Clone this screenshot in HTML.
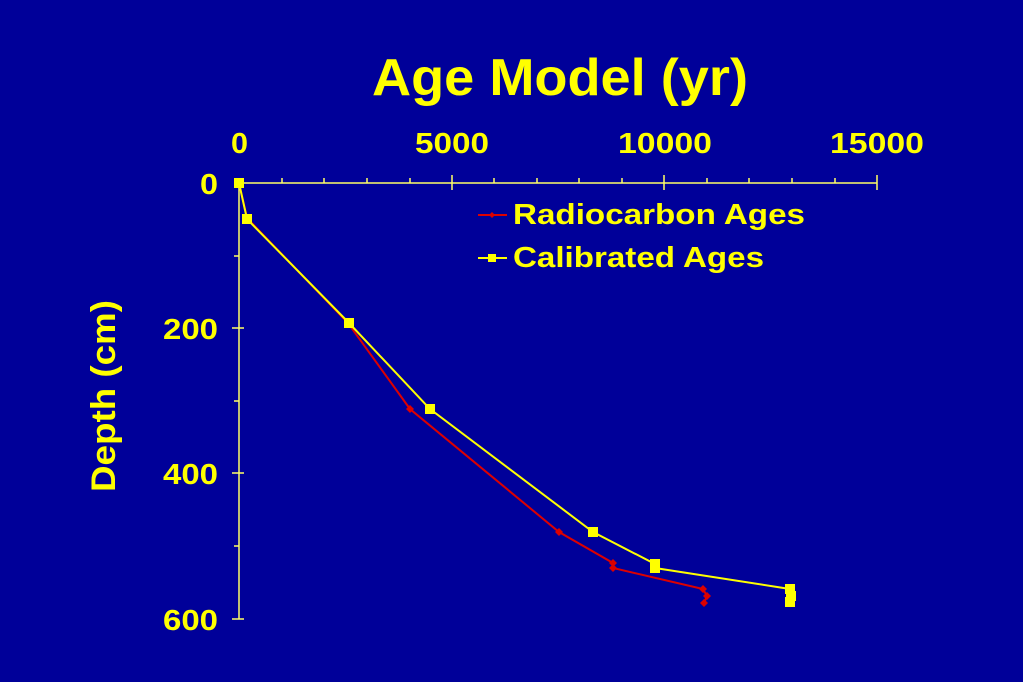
<!DOCTYPE html>
<html><head><style>
html,body{margin:0;padding:0;background:#000099;}
</style></head><body>
<svg width="1023" height="682" xmlns="http://www.w3.org/2000/svg" style="display:block">
<rect width="1023" height="682" fill="#000099"/>
<g font-family="Liberation Sans, sans-serif" font-weight="bold" fill="#ffff00">
<text x="372" y="95" font-size="52" textLength="376" lengthAdjust="spacingAndGlyphs">Age Model (yr)</text>
<g font-size="29">
<text x="231" y="153" textLength="17" lengthAdjust="spacingAndGlyphs">0</text>
<text x="415" y="153" textLength="74" lengthAdjust="spacingAndGlyphs">5000</text>
<text x="618" y="153" textLength="94" lengthAdjust="spacingAndGlyphs">10000</text>
<text x="830" y="153" textLength="94" lengthAdjust="spacingAndGlyphs">15000</text>
</g>
<g font-size="29">
<text x="200" y="194" textLength="18" lengthAdjust="spacingAndGlyphs">0</text>
<text x="163" y="339" textLength="55" lengthAdjust="spacingAndGlyphs">200</text>
<text x="163" y="484" textLength="55" lengthAdjust="spacingAndGlyphs">400</text>
<text x="163" y="630" textLength="55" lengthAdjust="spacingAndGlyphs">600</text>
</g>
<text transform="translate(115,492) rotate(-90)" font-size="34" textLength="192" lengthAdjust="spacingAndGlyphs">Depth (cm)</text>
<g font-size="29">
<text x="513" y="224" textLength="292" lengthAdjust="spacingAndGlyphs">Radiocarbon Ages</text>
<text x="513" y="267" textLength="251" lengthAdjust="spacingAndGlyphs">Calibrated Ages</text>
</g>
</g>
<g stroke="#ffff66" stroke-width="1.5" fill="none">
<line x1="239" y1="183" x2="877" y2="183"/>
<line x1="239" y1="183" x2="239" y2="619"/>
<path d="M282 178v5M324 178v5M367 178v5M410 178v5M494 178v5M537 178v5M579 178v5M622 178v5M707 178v5M749 178v5M792 178v5M835 178v5"/>
<path d="M452 175v15M664 175v15M877 175v15"/>
<path d="M234 256h5M234 401h5M234 546h5M232 328h12M232 473h12M232 619h12"/>
</g>
<polyline fill="none" stroke="#dd0000" stroke-width="2" points="239,183 247,218 348,323 410,409 559,532 613,563 613,568 703,589 707,596 704,603"/>
<g fill="#dd0000">
<path d="M239 179l4 4-4 4-4-4z M247 214l4 4-4 4-4-4z M348 319l4 4-4 4-4-4z M410 405l4 4-4 4-4-4z M559 528l4 4-4 4-4-4z M613 559l4 4-4 4-4-4z M613 564l4 4-4 4-4-4z M703 585l4 4-4 4-4-4z M707 592l4 4-4 4-4-4z M704 599l4 4-4 4-4-4z"/>
</g>
<polyline fill="none" stroke="#ffff00" stroke-width="2" points="239,183 247,219 349,323 430,409 593,532 655,564 655,568 790,589 791,596 790,602"/>
<g fill="#ffff00">
<rect x="234" y="178" width="10" height="10"/><rect x="242" y="214" width="10" height="10"/><rect x="344" y="318" width="10" height="10"/><rect x="425" y="404" width="10" height="10"/><rect x="588" y="527" width="10" height="10"/><rect x="650" y="559" width="10" height="10"/><rect x="650" y="563" width="10" height="10"/><rect x="785" y="584" width="10" height="10"/><rect x="786" y="591" width="10" height="10"/><rect x="785" y="597" width="10" height="10"/>
</g>
<line x1="478" y1="215" x2="507" y2="215" stroke="#dd0000" stroke-width="2"/>
<path d="M492 212l3 3-3 3-3-3z" fill="#dd0000"/>
<line x1="478" y1="258" x2="507" y2="258" stroke="#ffff00" stroke-width="2"/>
<rect x="488" y="254" width="8" height="8" fill="#ffff00"/>
</svg>
</body></html>
